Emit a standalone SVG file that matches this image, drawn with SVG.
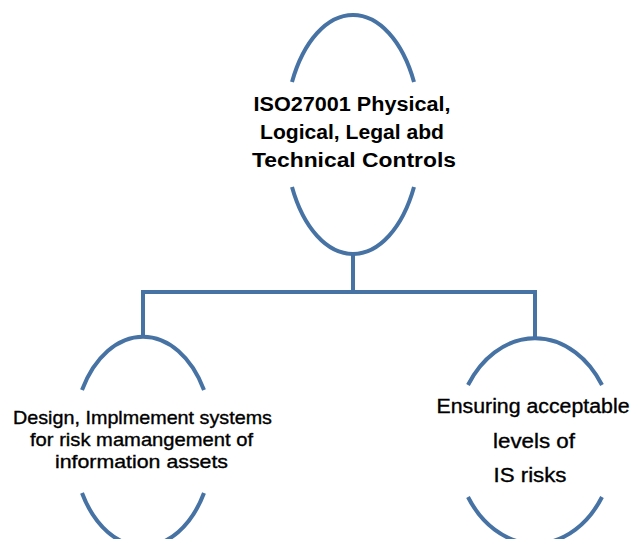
<svg xmlns="http://www.w3.org/2000/svg" width="634" height="539" viewBox="0 0 634 539">
<style>
.arc{fill:none;stroke:#4672A4;stroke-width:4}
.con{fill:none;stroke:#4672A4;stroke-width:4;stroke-linejoin:miter}
.t{font-family:"Liberation Sans",Arial,sans-serif;fill:#000;text-anchor:middle}
.b{font-weight:bold}
.s{stroke:#000;stroke-width:0.35}
</style>
<rect width="634" height="539" fill="#fff"/>
<g id="connectors">
<path class="con" d="M353 255 V292 M143 337 V292 H535 V338"/>
</g>
<g id="node-top">
<path class="arc" d="M292 82 A68 120 0 0 1 414 82"/>
<path class="arc" d="M292 187 A68 120 0 0 0 414 187"/>
<text class="t b" font-size="20" x="352" y="111" textLength="197" lengthAdjust="spacingAndGlyphs">ISO27001 Physical,</text>
<text class="t b" font-size="20" x="352" y="139" textLength="184" lengthAdjust="spacingAndGlyphs">Logical, Legal abd</text>
<text class="t b" font-size="20" x="354" y="167" textLength="204" lengthAdjust="spacingAndGlyphs">Technical Controls</text>
</g>
<g id="node-left">
<path class="arc" d="M82 390 A70 104.5 0 0 1 204 390"/>
<path class="arc" d="M82 493 A70 104.5 0 0 0 204 493"/>
<text class="t s" font-size="18.5" x="142.5" y="424" textLength="259" lengthAdjust="spacingAndGlyphs">Design, Implmement systems</text>
<text class="t s" font-size="18.5" x="141.5" y="446" textLength="223" lengthAdjust="spacingAndGlyphs">for risk mamangement of</text>
<text class="t s" font-size="18.5" x="141.5" y="468" textLength="173" lengthAdjust="spacingAndGlyphs">information assets</text>
</g>
<g id="node-right">
<path class="arc" d="M468 385 A80 103 0 0 1 602 385"/>
<path class="arc" d="M468 497 A80 103 0 0 0 602 497"/>
<text class="t s" font-size="20" x="533" y="413" textLength="193" lengthAdjust="spacingAndGlyphs" stroke-width="0.6">Ensuring acceptable</text>
<text class="t s" font-size="20" x="534" y="448" textLength="82" lengthAdjust="spacingAndGlyphs" stroke-width="0.6">levels of</text>
<text class="t s" font-size="20" x="530" y="482" textLength="73" lengthAdjust="spacingAndGlyphs" stroke-width="0.6">IS risks</text>
</g>
</svg>
